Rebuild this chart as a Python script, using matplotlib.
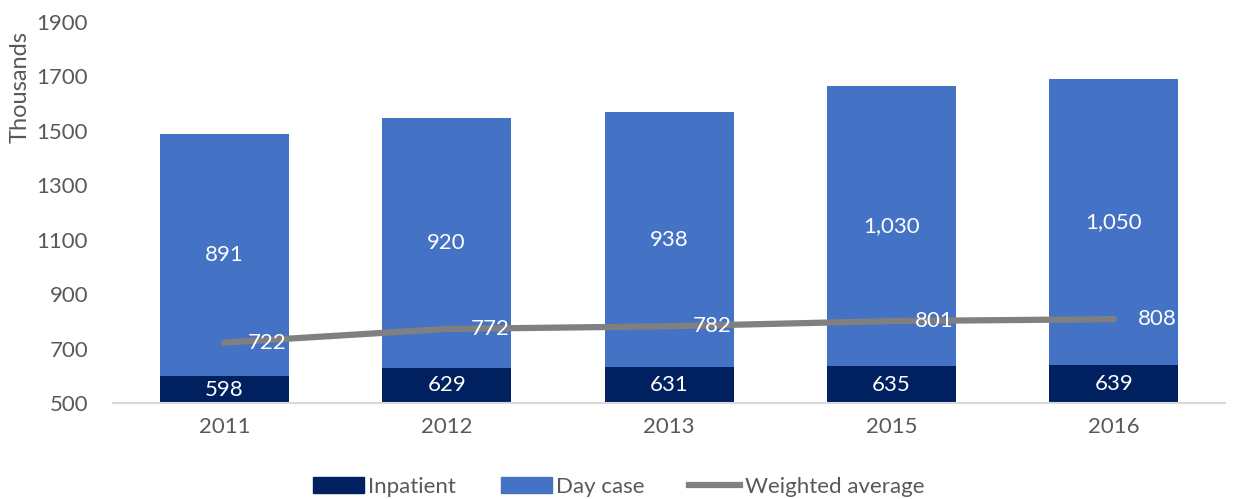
import matplotlib.pyplot as plt
from matplotlib.lines import Line2D
from matplotlib.patches import Patch

plt.rcParams['font.family'] = ['Lato', 'DejaVu Sans']

years = ['2011', '2012', '2013', '2015', '2016']
inpatient = [598, 629, 631, 635, 639]
day_case = [891, 920, 938, 1030, 1050]
weighted = [722, 772, 782, 801, 808]

c_in = '#002060'
c_day = '#4472C4'
c_line = '#808080'
c_txt = '#595959'
base = 500

fig = plt.figure(figsize=(12.37, 4.99), dpi=100)
ax = fig.add_axes([0.0914, 0.1924, 0.899, 0.7635])

x = list(range(len(years)))
ax.bar(x, inpatient, width=0.58, color=c_in, zorder=2)
ax.bar(x, day_case, width=0.58, bottom=inpatient, color=c_day, zorder=2)
ax.plot(x, weighted, color=c_line, lw=4.5, solid_capstyle='round', zorder=3)

for i in x:
    ax.text(i, (base + inpatient[i]) / 2, f'{inpatient[i]:,}', ha='center', va='center',
            color='white', fontsize=16, zorder=4)
    ax.text(i, inpatient[i] + day_case[i] / 2, f'{day_case[i]:,}', ha='center', va='center',
            color='white', fontsize=16, zorder=4)
    ax.annotate(f'{weighted[i]:,}', (i, weighted[i]), xytext=(17, 0), textcoords='offset points',
                ha='left', va='center', color='white', fontsize=16, zorder=4)

ax.set_xlim(-0.5, len(years) - 0.5)
ax.set_ylim(500, 1900)
ax.set_yticks(range(500, 1901, 200))
ax.set_xticks(x)
ax.set_xticklabels(years)
ax.tick_params(axis='both', length=0, labelsize=16, labelcolor=c_txt)
ax.tick_params(axis='y', pad=18)
ax.tick_params(axis='x', pad=10)
for s in ['top', 'right', 'left']:
    ax.spines[s].set_visible(False)
ax.spines['bottom'].set_color('#D9D9D9')
ax.spines['bottom'].set_linewidth(1.5)
ax.set_ylabel('Thousands', fontsize=17, color=c_txt)
ax.yaxis.set_label_coords(-0.074, 0.83)

handles = [Patch(color=c_in), Patch(color=c_day), Line2D([0], [0], color=c_line, lw=4.5)]
fig.legend(handles, ['Inpatient', 'Day case', 'Weighted average'], loc='center',
           bbox_to_anchor=(0.5, 0.025), ncol=3, frameon=False, fontsize=16,
           labelcolor=c_txt, handlelength=2.3, handletextpad=0.2, columnspacing=2.0)

fig.savefig('out.png', dpi=100)
